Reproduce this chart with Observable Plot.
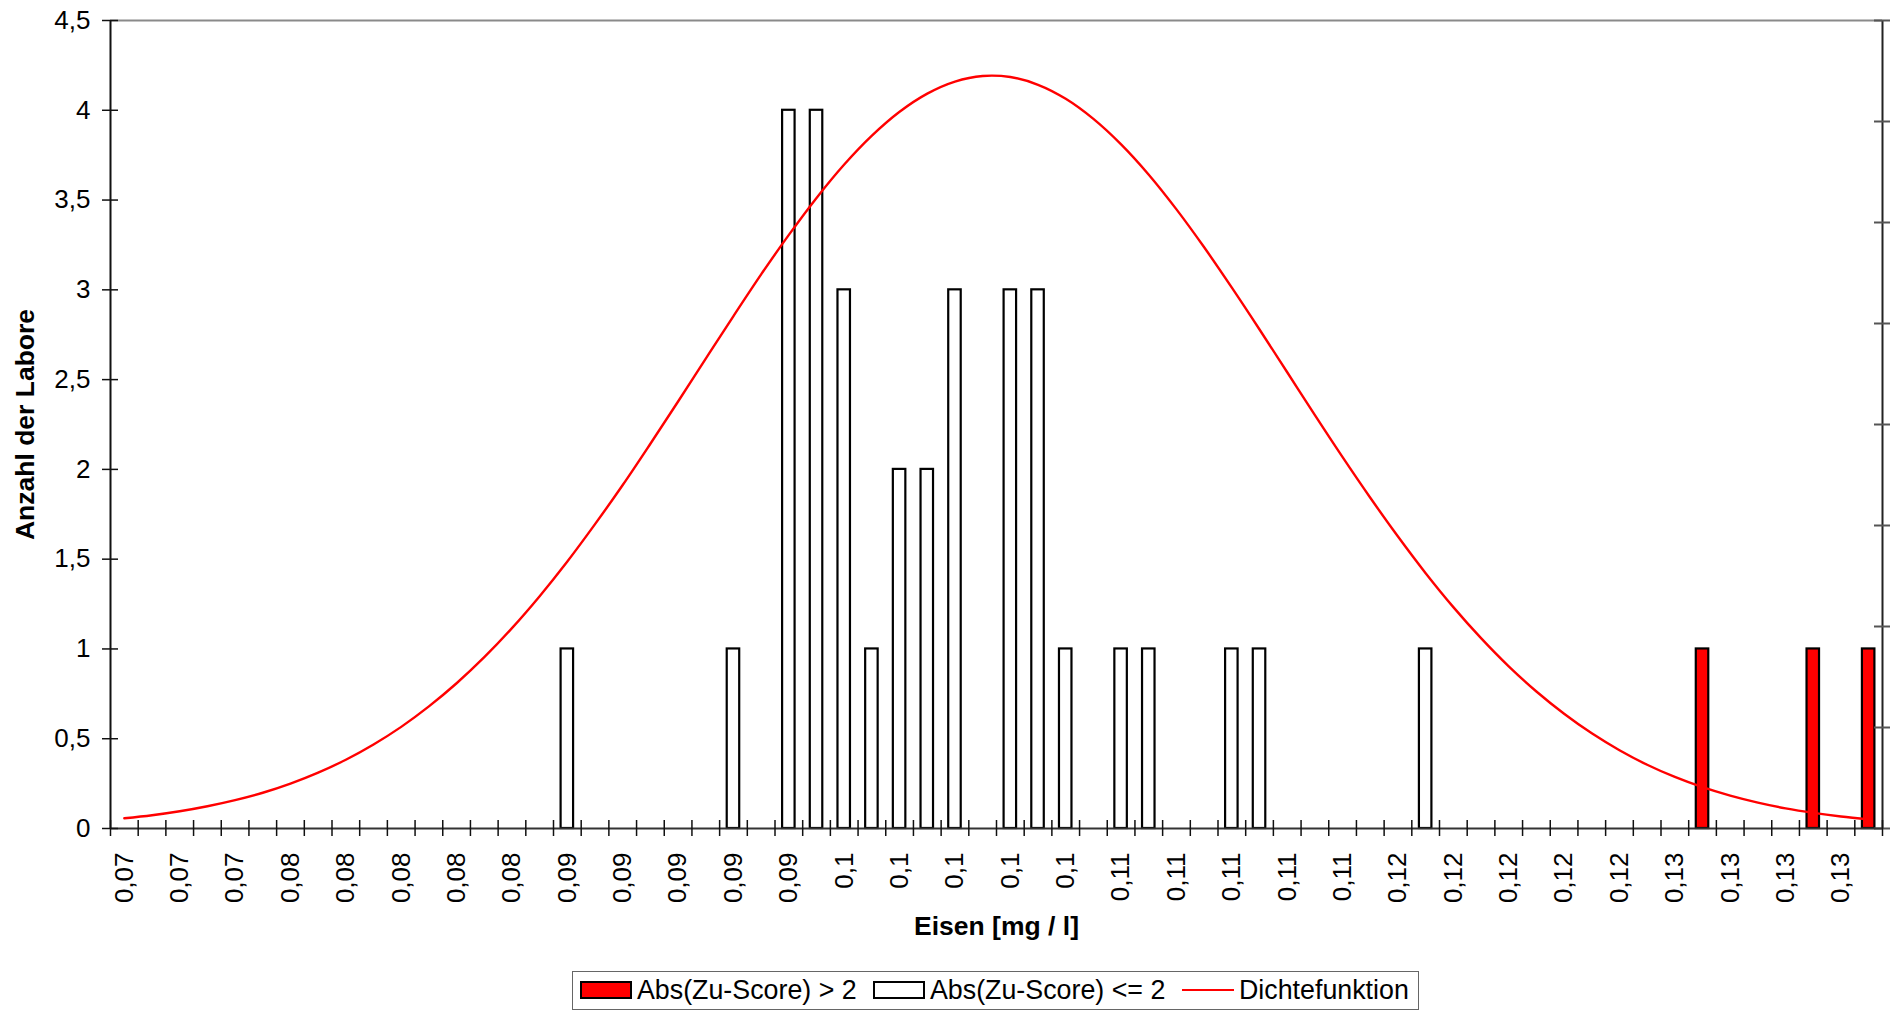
<!DOCTYPE html>
<html>
<head>
<meta charset="utf-8">
<script src="https://cdn.jsdelivr.net/npm/d3@7"></script>
<script src="https://cdn.jsdelivr.net/npm/@observablehq/plot@0.6"></script>
<style>
  body { margin: 0; background: #fff; font-family: "Liberation Sans", Arial, sans-serif; }
  #wrap { position: relative; width: 1899px; height: 1013px; background: #fff; }
  #legend { position: absolute; left: 572px; top: 971px; width: 847px; height: 39px;
            box-sizing: border-box; border: 1.5px solid #666; font-size: 26.8px; color: #000; }
  #legend .sw { position: absolute; top: 9px; width: 52px; height: 18px; box-sizing: border-box; border: 2px solid #000; }
  #legend .ln { position: absolute; top: 17px; width: 52px; height: 0; border-top: 2.5px solid #ff0000; }
  #legend .tx { position: absolute; top: 0; line-height: 36px; white-space: nowrap; }
</style>
</head>
<body>
<div id="wrap">
  <div id="chart"></div>
  <div id="legend"></div>
</div>
<script>
// ---- data ----
const tickLabels = ["0,07","0,07","0,07","0,08","0,08","0,08","0,08","0,08",
  "0,09","0,09","0,09","0,09","0,09","0,1","0,1","0,1","0,1","0,1",
  "0,11","0,11","0,11","0,11","0,11","0,12","0,12","0,12","0,12","0,12",
  "0,13","0,13","0,13","0,13"];

// number of laboratories per class, |Zu-Score| <= 2
const countsWithin = [
  0,0,0,0,0,0,0,0,0,0,
  0,0,0,0,0,0,1,0,0,0,
  0,0,1,0,4,4,3,1,2,2,
  3,0,3,3,1,0,1,1,0,0,
  1,1,0,0,0,0,0,1,0,0,
  0,0,0,0,0,0,0,0,0,0,
  0,0,0,0];
// number of laboratories per class, |Zu-Score| > 2
const countsOutside = [
  0,0,0,0,0,0,0,0,0,0,
  0,0,0,0,0,0,0,0,0,0,
  0,0,0,0,0,0,0,0,0,0,
  0,0,0,0,0,0,0,0,0,0,
  0,0,0,0,0,0,0,0,0,0,
  0,0,0,0,0,0,0,1,0,0,
  0,1,0,1];
// density curve, read in left-axis units at each class centre
const densityCurve = [
  0.057,0.074,0.096,0.124,0.158,0.199,0.250,0.311,0.383,0.468,
  0.566,0.680,0.809,0.954,1.116,1.294,1.487,1.695,1.913,2.143,
  2.378,2.617,2.854,3.086,3.306,3.512,3.698,3.859,3.992,4.093,
  4.160,4.191,4.185,4.142,4.064,3.952,3.810,3.641,3.448,3.237,
  3.012,2.779,2.541,2.302,2.068,1.842,1.626,1.422,1.233,1.060,
  0.903,0.763,0.639,0.530,0.436,0.355,0.287,0.230,0.183,0.144,
  0.112,0.087,0.067,0.051];

const yTicks = [0,0.5,1,1.5,2,2.5,3,3.5,4,4.5];
const densityTicks = [0,5,10,15,20,25,30,35,40];
const densityAxisMax = 40;
const yMax = 4.5;

const legendItems = [
  {label: "Abs(Zu-Score) > 2", kind: "box", fill: "#ff0000"},
  {label: "Abs(Zu-Score) <= 2", kind: "box", fill: "#ffffff"},
  {label: "Dichtefunktion", kind: "line", fill: "#ff0000"}
];

// ---- derived tables ----
const nBins = countsWithin.length;
const withinRows = d3.range(nBins).filter(i => countsWithin[i] > 0).map(i => ({bin: i, n: countsWithin[i]}));
const outsideRows = d3.range(nBins).filter(i => countsOutside[i] > 0).map(i => ({bin: i, n: countsOutside[i]}));
const curveRows = densityCurve.map((v, i) => ({x: i + 0.5, v}));
const labelPos = tickLabels.map((_, k) => 2 * k + 0.5);
const boundaries = d3.range(nBins + 1);
const fmtComma = d => String(d).replace(".", ",");

const barOpts = {x1: "bin", x2: d => d.bin + 1, y: "n", stroke: "#000", strokeWidth: 2.2, insetLeft: 7.6, insetRight: 7.6};

const chart = Plot.plot({
  width: 1899, height: 955,
  marginLeft: 110, marginRight: 17, marginTop: 20, marginBottom: 127,
  x: {domain: [0, nBins], axis: null},
  y: {domain: [0, yMax], axis: null},
  style: {fontFamily: "'Liberation Sans', Arial, sans-serif", fontSize: "26px", background: "#fff", color: "#000", overflow: "visible"},
  marks: [
    Plot.rectY(withinRows, {...barOpts, fill: "#fff"}),
    Plot.rectY(outsideRows, {...barOpts, fill: "#ff0000"}),
    Plot.line(curveRows, {x: "x", y: "v", stroke: "#ff0000", strokeWidth: 2.4, curve: "catmull-rom"}),
    Plot.ruleY([yMax], {stroke: "#8a8a8a", strokeWidth: 2}),
    Plot.ruleX([nBins], {stroke: "#222", strokeWidth: 2}),
    Plot.ruleY(densityTicks, {y: t => t / densityAxisMax * yMax, x1: nBins, x2: nBins, insetLeft: -8, insetRight: -8, stroke: "#555", strokeWidth: 2}),
    Plot.ruleY([0], {stroke: "#333", strokeWidth: 2}),
    Plot.ruleX([0], {stroke: "#111", strokeWidth: 2}),
    Plot.ruleY(yTicks, {x1: 0, x2: 0, insetLeft: -8, insetRight: -8, stroke: "#111", strokeWidth: 1.5}),
    Plot.ruleX(boundaries, {y1: 0, y2: 0, insetTop: -8, insetBottom: -8, stroke: "#111", strokeWidth: 1.5}),
    Plot.axisY({ticks: yTicks, tickSize: 0, tickPadding: 20, tickFormat: fmtComma, fontSize: 26, label: null}),
    Plot.axisX({ticks: labelPos, tickSize: 0, tickPadding: 24, tickRotate: -90, tickFormat: d => tickLabels[Math.round((d - 0.5) / 2)], fontSize: 26, label: null}),
    Plot.text(["Eisen [mg / l]"], {frameAnchor: "bottom", dy: 98.5, textAnchor: "middle", lineAnchor: "middle", fontWeight: "bold", fontSize: 26.5}),
    Plot.text(["Anzahl der Labore"], {frameAnchor: "left", dx: -84.5, rotate: -90, textAnchor: "middle", lineAnchor: "middle", fontWeight: "bold", fontSize: 26.5})
  ]
});
document.getElementById("chart").appendChild(chart);

// ---- legend ----
const legend = document.getElementById("legend");
const swatchLeft = [7, 300, 609];
const textLeft = [64, 357, 666];
legendItems.forEach((it, k) => {
  const s = document.createElement("div");
  if (it.kind === "box") { s.className = "sw"; s.style.background = it.fill; }
  else { s.className = "ln"; s.style.borderTopColor = it.fill; }
  s.style.left = swatchLeft[k] + "px";
  legend.appendChild(s);
  const t = document.createElement("div");
  t.className = "tx";
  t.style.left = textLeft[k] + "px";
  t.textContent = it.label;
  legend.appendChild(t);
});
</script>
</body>
</html>
